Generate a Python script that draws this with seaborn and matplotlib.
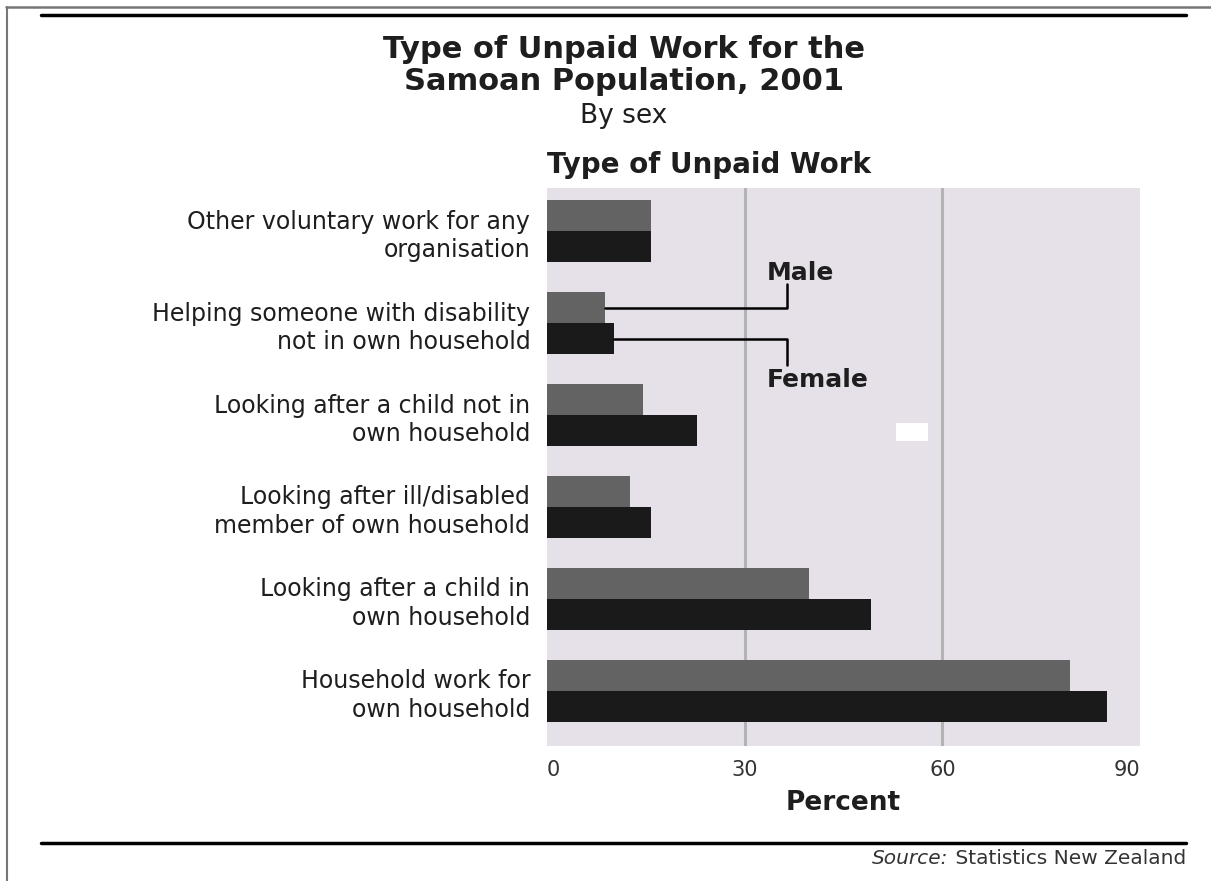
import pandas as pd
import matplotlib
matplotlib.use("Agg")
import matplotlib.pyplot as plt
from matplotlib.lines import Line2D
from matplotlib.patches import Rectangle
import seaborn as sns

# Values (percent)
categories = [
    "Other voluntary work for any\norganisation",
    "Helping someone with disability\nnot in own household",
    "Looking after a child not in\nown household",
    "Looking after ill/disabled\nmember of own household",
    "Looking after a child in\nown household",
    "Household work for\nown household",
]
male = [15.8, 8.8, 14.6, 12.6, 39.8, 79.4]
female = [15.8, 10.2, 22.8, 15.8, 49.2, 85.0]
sexes = ["Male", "Female"]
x_ticks = [0, 30, 60, 90]

df = pd.DataFrame({
    "Type": categories * 2,
    "Sex": ["Male"] * len(categories) + ["Female"] * len(categories),
    "Percent": male + female,
})

sns.set_theme(style="white")
plt.rcParams["font.family"] = ["DejaVu Sans"]
text_col = "#1e1e1e"

fig = plt.figure(figsize=(12.11, 8.81), dpi=100)
ax = fig.add_axes([547 / 1211, 1 - 746 / 881, 593 / 1211, (746 - 188) / 881])

sns.barplot(data=df, y="Type", x="Percent", hue="Sex", hue_order=sexes,
            palette={"Male": "#636363", "Female": "#1a1a1a"},
            width=0.67, linewidth=0, orient="h", legend=False, ax=ax)

ax.set_facecolor("#e6e0e8")
ax.set_xlim(0, 90)
ax.set_ylim(5.6, -0.47)
ax.set_xticks(x_ticks)
ax.set_xticklabels([str(t) for t in x_ticks])
for v in x_ticks[1:-1]:
    ax.axvline(v, color="#b3b3b3", lw=2.2, zorder=0)
for s in ax.spines.values():
    s.set_visible(False)
ax.tick_params(axis="y", length=0, pad=12, labelsize=17, labelcolor=text_col)
ax.tick_params(axis="x", length=0, pad=10, labelsize=15, labelcolor="#333333")
for lab in ax.get_yticklabels():
    lab.set_linespacing(1.25)
xl = ax.get_xticklabels()
xl[0].set_ha("left")
xl[-1].set_ha("right")
ax.set_xlabel("")
ax.set_ylabel("")

# leader lines for Male / Female labels, taken from the second group's bars
lead_x = 36.4
mbar = ax.containers[0][1]
fbar = ax.containers[1][1]
my = mbar.get_y() + mbar.get_height() / 2
fy = fbar.get_y() + fbar.get_height() / 2
ax.plot([mbar.get_width(), lead_x, lead_x], [my, my, 0.57], color="black", lw=1.8)
ax.plot([fbar.get_width(), lead_x, lead_x], [fy, fy, 1.45], color="black", lw=1.8)
ax.text(33.3, 0.46, "Male", fontsize=18, fontweight="bold", color=text_col, va="center")
ax.text(33.3, 1.62, "Female", fontsize=18, fontweight="bold", color=text_col, va="center")
ax.add_patch(Rectangle((53.0, 2.087), 4.9, 0.196, facecolor="white", edgecolor="none"))

# titles
fig.text(0.515, 1 - 50 / 881, "Type of Unpaid Work for the", ha="center", va="center",
         fontsize=22, fontweight="bold", color=text_col)
fig.text(0.515, 1 - 81 / 881, "Samoan Population, 2001", ha="center", va="center",
         fontsize=22, fontweight="bold", color=text_col)
fig.text(0.515, 1 - 116 / 881, "By sex", ha="center", va="center",
         fontsize=19, color=text_col)
fig.text(547 / 1211, 1 - 165 / 881, "Type of Unpaid Work", ha="left", va="center",
         fontsize=20, fontweight="bold", color=text_col)
fig.text(843 / 1211, 1 - 803 / 881, "Percent", ha="center", va="center",
         fontsize=19, fontweight="bold", color=text_col)

# frame and rules
fig.add_artist(Line2D([0.005, 1.0], [1 - 6.5 / 881] * 2, color="#777777", lw=1.8))
fig.add_artist(Line2D([7 / 1211] * 2, [0, 1 - 6.5 / 881], color="#777777", lw=1.5))
fig.add_artist(Line2D([41 / 1211, 1186 / 1211], [1 - 15 / 881] * 2, color="black", lw=2.5))
fig.add_artist(Line2D([41 / 1211, 1186 / 1211], [1 - 843 / 881] * 2, color="black", lw=2.5))

# source line: italic "Source:" followed by regular text
src = fig.text(1186 / 1211, 1 - 858 / 881, " Statistics New Zealand", ha="right",
               va="center", fontsize=14.5, color="#333333")
fig.canvas.draw()
bb = src.get_window_extent(fig.canvas.get_renderer())
fig.text(bb.x0 / fig.bbox.width, 1 - 858 / 881, "Source:", ha="right", va="center",
         fontsize=14.5, style="italic", color="#333333")

fig.savefig("out.png", dpi=100)
